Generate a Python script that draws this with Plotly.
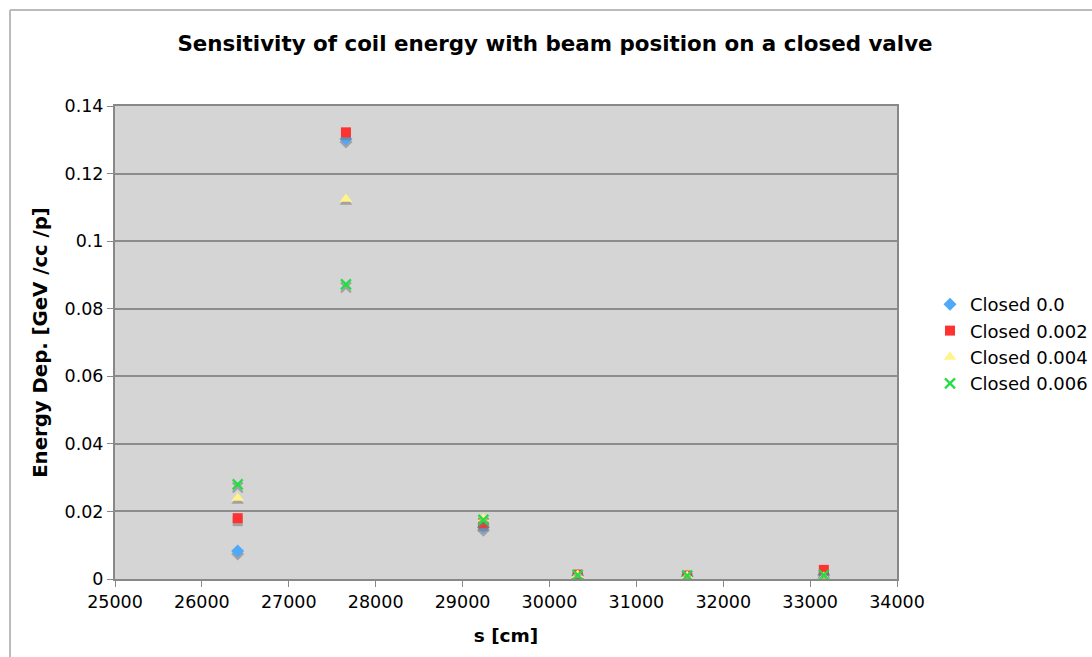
import plotly.graph_objects as go

# ---- data ----
s_cm = [26412, 27658, 29240, 30325, 31585, 33158]
closed_0_0 = [0.0083, 0.1302, 0.0153, 0.0010, 0.0008, 0.0012]
closed_0_002 = [0.0180, 0.1322, 0.0165, 0.0013, 0.0010, 0.0027]
closed_0_004 = [0.0240, 0.1125, 0.0178, 0.0012, 0.0009, 0.0006]
closed_0_006 = [0.0280, 0.0872, 0.0175, 0.0012, 0.0010, 0.0012]
series_names = ["Closed 0.0", "Closed 0.002", "Closed 0.004", "Closed 0.006"]
y_ticks = [0, 0.02, 0.04, 0.06, 0.08, 0.1, 0.12, 0.14]
y_tick_text = ["0", "0.02", "0.04", "0.06", "0.08", "0.1", "0.12", "0.14"]
x_ticks = [25000, 26000, 27000, 28000, 29000, 30000, 31000, 32000, 33000, 34000]

FONT = "DejaVu Sans"
W, H = 1092, 657
L, R, T, B = 115, W - 897, 106, H - 579
plot_h = H - T - B
plot_w = W - L - R
Y_MAX = 0.14
shadow_dy = 3 * Y_MAX / plot_h  # 3 px drop shadow

styles = [
    dict(symbol="diamond", color="#4FA8F8", size=10, line=dict(width=0)),
    dict(symbol="square", color="#FF3232", size=10, line=dict(width=0)),
    dict(symbol="triangle-up", color="#FFF38A", size=11, line=dict(width=0)),
    dict(symbol="x-thin", color="#22DD44", size=10, line=dict(width=2.2, color="#22DD44")),
]
all_series = [closed_0_0, closed_0_002, closed_0_004, closed_0_006]

fig = go.Figure()
for i, (name, ys, st) in enumerate(zip(series_names, all_series, styles)):
    sh = dict(st)
    sh["color"] = "rgba(120,120,120,0.55)"
    if st["symbol"] == "x-thin":
        sh["line"] = dict(width=2.2, color="rgba(120,120,120,0.55)")
    fig.add_trace(go.Scatter(
        x=s_cm, y=[v - shadow_dy for v in ys], mode="markers",
        marker=sh, showlegend=False, hoverinfo="skip"))
    fig.add_trace(go.Scatter(
        x=s_cm, y=ys, mode="markers", name=name, marker=st,
        legendgroup=name))

fig.update_layout(
    width=W, height=H,
    margin=dict(l=L, r=R, t=T, b=B, pad=0, autoexpand=False),
    paper_bgcolor="white",
    plot_bgcolor="#D5D5D5",
    font=dict(family=FONT, size=17, color="black"),
    title=dict(text="<b>Sensitivity of coil energy with beam position on a closed valve</b>",
               x=555 / W, xref="container", xanchor="center",
               y=1 - 44 / H, yref="container", yanchor="middle",
               font=dict(family=FONT, size=21.4, color="black")),
    legend=dict(x=930 / W, xref="container", xanchor="left",
                y=1 - 286 / H, yref="container", yanchor="top",
                bgcolor="rgba(0,0,0,0)",
                font=dict(family=FONT, size=18, color="black"),
                tracegroupgap=0, itemwidth=30),
    xaxis=dict(range=[25000, 34000], tickvals=x_ticks,
               ticktext=[str(v) for v in x_ticks],
               showgrid=False, zeroline=False,
               showline=True, linecolor="#888888", linewidth=2, mirror=True,
               ticks="outside", ticklen=6, tickcolor="#888888", tickwidth=1,
               tickfont=dict(family=FONT, size=17.5),
               title=dict(text="<b>s [cm]</b>", font=dict(family=FONT, size=18.5),
                          standoff=18)),
    yaxis=dict(range=[0, Y_MAX], tickvals=y_ticks, ticktext=y_tick_text,
               showgrid=True, gridcolor="#8C8C8C", gridwidth=1.5,
               zeroline=False,
               showline=True, linecolor="#888888", linewidth=2, mirror=True,
               ticks="outside", ticklen=6, tickcolor="#888888", tickwidth=1,
               tickfont=dict(family=FONT, size=17.5),
               title=dict(text="<b>Energy Dep. [GeV /cc /p]</b>",
                          font=dict(family=FONT, size=19.7), standoff=12)),
)

# outer chart frame (top and left edges visible in the reference)
px_x = lambda px: (px - L) / plot_w
px_y = lambda py: (H - B - py) / plot_h
fig.add_shape(type="line", xref="paper", yref="paper",
              x0=px_x(10), x1=px_x(W + 5), y0=px_y(10), y1=px_y(10),
              line=dict(color="#BBBBBB", width=2))
fig.add_shape(type="line", xref="paper", yref="paper",
              x0=px_x(10), x1=px_x(10), y0=px_y(10), y1=px_y(H + 5),
              line=dict(color="#BBBBBB", width=2))

fig.write_html("out.html")
